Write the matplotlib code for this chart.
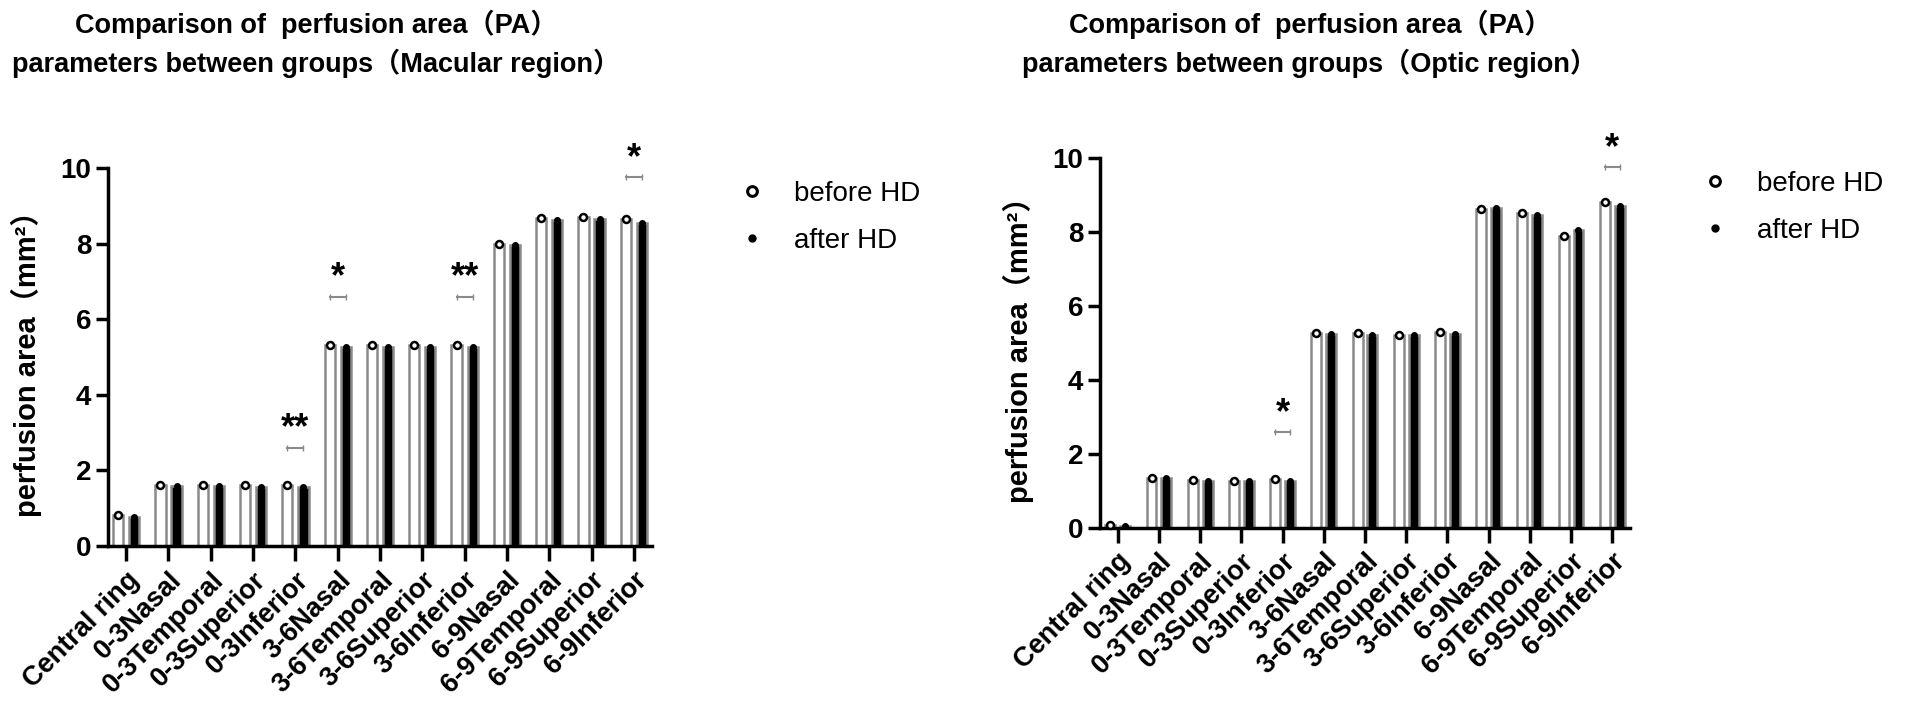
import numpy as np
import matplotlib.pyplot as plt
from matplotlib.lines import Line2D

plt.rcParams['font.family'] = ['Liberation Sans', 'Noto Sans CJK SC']

categories = ['Central ring', '0-3Nasal', '0-3Temporal', '0-3Superior', '0-3Inferior',
              '3-6Nasal', '3-6Temporal', '3-6Superior', '3-6Inferior',
              '6-9Nasal', '6-9Temporal', '6-9Superior', '6-9Inferior']

# Macular region
mac_before = [0.82, 1.62, 1.62, 1.62, 1.62, 5.33, 5.33, 5.32, 5.33, 8.00, 8.68, 8.70, 8.65]
mac_after = [0.78, 1.58, 1.58, 1.57, 1.56, 5.27, 5.27, 5.26, 5.27, 7.95, 8.63, 8.65, 8.55]
mac_sig_idx = [4, 5, 8, 12]
mac_sig_txt = ['**', '*', '**', '*']
mac_sig_y = [2.6, 6.6, 6.6, 9.75]

# Optic region
opt_before = [0.08, 1.35, 1.28, 1.27, 1.32, 5.27, 5.27, 5.22, 5.28, 8.62, 8.50, 7.88, 8.80]
opt_after = [0.05, 1.33, 1.25, 1.25, 1.27, 5.25, 5.22, 5.22, 5.25, 8.65, 8.45, 8.05, 8.70]
opt_sig_idx = [4, 12]
opt_sig_txt = ['*', '*']
opt_sig_y = [2.58, 9.75]

W, H = 1907, 711
fig = plt.figure(figsize=(W / 100, H / 100), dpi=100)


def panel(px_left, px_right, px_top, px_bottom, before, after, sig_idx, sig_txt, sig_y,
          title, title_cx, off, legend_px):
    rect = [px_left / W, 1 - px_bottom / H, (px_right - px_left) / W, (px_bottom - px_top) / H]
    ax = fig.add_axes(rect)
    x = np.arange(len(categories))
    bw = 0.24
    ax.bar(x - off, before, bw, color='white', edgecolor='#8a8a8a', linewidth=1.8, zorder=2)
    ax.bar(x + off, after, bw, color='black', edgecolor='#8a8a8a', linewidth=1.8, zorder=2)
    ax.plot(x - off, before, 'o', ms=5, mfc='white', mec='black', mew=1.8, ls='none',
            zorder=3, clip_on=False)
    ax.plot(x + off, after, 'o', ms=4, color='black', ls='none', zorder=3, clip_on=False)

    for i, t, y in zip(sig_idx, sig_txt, sig_y):
        ax.plot([i - off, i + off], [y, y], color='#8a8a8a', lw=1.5, marker='|', ms=4,
                clip_on=False)
        ax.text(i, y + 0.5, t, ha='center', va='center', fontsize=26, fontweight='bold')

    ax.set_xlim(-0.43, 12.43)
    ax.set_ylim(0, 10)
    ax.set_yticks([0, 2, 4, 6, 8, 10])
    ax.set_xticks(x)
    ax.set_xticklabels(categories, rotation=45, ha='right', rotation_mode='anchor',
                       fontsize=19.5, fontweight='bold')
    for lab in ax.get_yticklabels():
        lab.set_fontsize(20)
        lab.set_fontweight('bold')
    ax.tick_params(axis='y', length=9, width=2.5, pad=3)
    ax.tick_params(axis='x', length=11, width=2.5, pad=4)
    for s in ['top', 'right']:
        ax.spines[s].set_visible(False)
    for s in ['left', 'bottom']:
        ax.spines[s].set_linewidth(2.5)
    ax.set_ylabel('perfusion area（mm²）', fontsize=21, fontweight='bold', labelpad=13)

    fig.text(title_cx / W, 1 - 10 / H, title, ha='center', va='top', fontsize=19.5,
             fontweight='bold', linespacing=1.4)

    handles = [Line2D([], [], marker='o', ls='none', ms=7, mfc='white', mec='black', mew=2.2),
               Line2D([], [], marker='o', ls='none', ms=5, color='black')]
    fig.legend(handles, ['before HD', 'after HD'], loc='upper left',
               bbox_to_anchor=(legend_px[0] / W, 1 - legend_px[1] / H), frameon=False,
               fontsize=20, handlelength=1.0, handletextpad=1.0, labelspacing=0.75,
               borderpad=0, borderaxespad=0)
    return ax


panel(108, 652, 168, 546, mac_before, mac_after, mac_sig_idx, mac_sig_txt, mac_sig_y,
      'Comparison of  perfusion area（PA）\nparameters between groups（Macular region）',
      316, 0.19, (738, 181))
panel(1100, 1630, 158, 527.5, opt_before, opt_after, opt_sig_idx, opt_sig_txt, opt_sig_y,
      'Comparison of  perfusion area（PA）\nparameters between groups（Optic region）',
      1310, 0.18, (1701, 171))

fig.savefig('out.png', dpi=100)
